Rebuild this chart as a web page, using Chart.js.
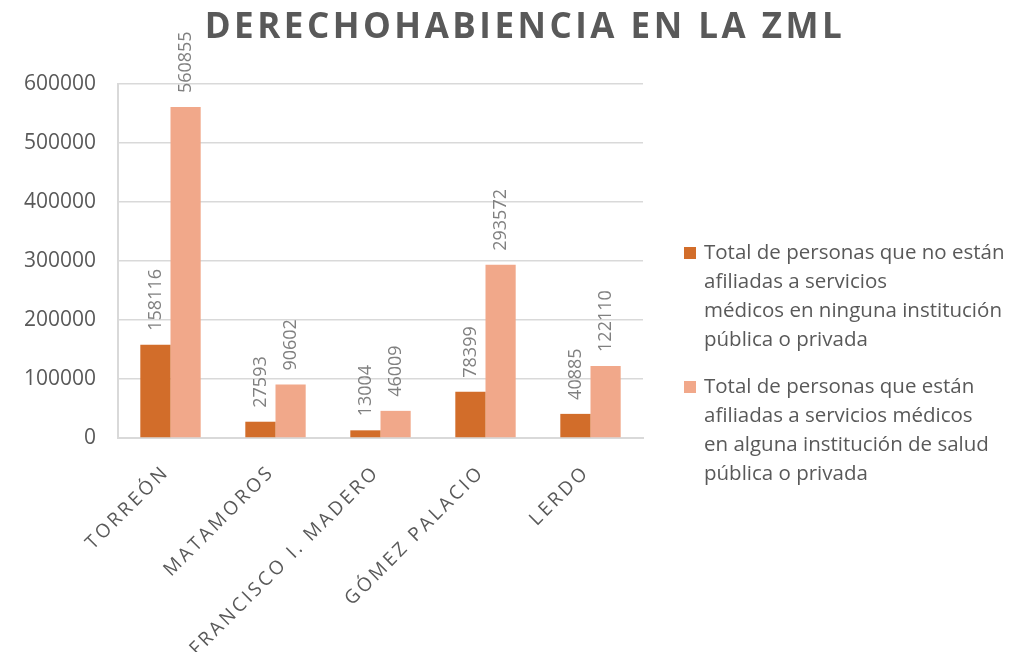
<!DOCTYPE html>
<html>
<head>
<meta charset="utf-8">
<script src="https://cdn.jsdelivr.net/npm/chart.js@4"></script>
<style>
  body { margin: 0; background: #fff; }
  canvas { display: block; }
</style>
</head>
<body>
<canvas id="chart" width="1010" height="652"></canvas>
<script>
const chartTitle = 'DERECHOHABIENCIA EN LA ZML';
const municipios = ['TORREÓN', 'MATAMOROS', 'FRANCISCO I. MADERO', 'GÓMEZ PALACIO', 'LERDO'];
const sinServicio = [158116, 27593, 13004, 78399, 40885];
const conServicio = [560855, 90602, 46009, 293572, 122110];
const yTicks = [0, 100000, 200000, 300000, 400000, 500000, 600000];
const sinLabel = ['Total de personas que no están', 'afiliadas a servicios', 'médicos en ninguna institución', 'pública o privada'];
const conLabel = ['Total de personas que están', 'afiliadas a servicios médicos', 'en alguna institución de salud', 'pública o privada'];

const grey = '#595959';

// titles, rotated category labels, bar values and the legend are drawn by hand
// because they need letter spacing / wrapped lines
const decor = {
    id: 'decor',
    afterDatasetsDraw(chart){
        const ctx = chart.ctx;
        ctx.save();
        ctx.fillStyle = '#808080';
        ctx.font = '18px "Open Sans"';
        ctx.textAlign = 'left';
        ctx.textBaseline = 'middle';
        chart.data.datasets.forEach(function(ds, i){
            chart.getDatasetMeta(i).data.forEach(function(bar, j){
                ctx.save();
                ctx.translate(bar.x, bar.y - 14);
                ctx.rotate(-Math.PI / 2);
                ctx.fillText(String(ds.data[j]), 0, 0);
                ctx.restore();
            });
        });
        ctx.restore();
    },
    afterDraw(chart){
        const ctx = chart.ctx;
        const x = chart.scales.x;

        // title
        ctx.save();
        ctx.fillStyle = grey;
        ctx.font = 'bold 35px "Open Sans"';
        ctx.letterSpacing = '3.5px';
        ctx.textAlign = 'center';
        ctx.textBaseline = 'alphabetic';
        ctx.fillText(chartTitle, 525, 38);
        ctx.restore();

        // category labels
        ctx.save();
        ctx.fillStyle = grey;
        ctx.font = '19px "Open Sans"';
        ctx.letterSpacing = '3px';
        ctx.textAlign = 'right';
        ctx.textBaseline = 'middle';
        chart.data.labels.forEach(function(lab, i){
            const cx = x.getPixelForValue(i);
            ctx.save();
            ctx.translate(cx - 4, 469);
            ctx.rotate(-Math.PI / 4);
            ctx.fillText(lab, 0, 0);
            ctx.restore();
        });
        ctx.restore();

        // legend
        ctx.save();
        ctx.font = '20.5px "Open Sans"';
        ctx.textAlign = 'left';
        ctx.textBaseline = 'middle';
        const tops = [253, 387];
        chart.data.datasets.forEach(function(ds, i){
            ctx.fillStyle = ds.backgroundColor;
            ctx.fillRect(684, tops[i] - 6, 12, 12);
            ctx.fillStyle = grey;
            ds.label.forEach(function(line, k){
                ctx.fillText(line, 704, tops[i] + k * 29);
            });
        });
        ctx.restore();
    }
};

new Chart(document.getElementById('chart'), {
    type: 'bar',
    data: {
        labels: municipios,
        datasets: [
            {
                label: sinLabel,
                data: sinServicio,
                backgroundColor: '#D26D2A'
            },
            {
                label: conLabel,
                data: conServicio,
                backgroundColor: '#F1A88A'
            }
        ]
    },
    options: {
        responsive: false,
        animation: false,
        categoryPercentage: 0.575,
        barPercentage: 1,
        layout: {padding: {top: 84, right: 367, bottom: 206, left: 0}},
        plugins: {
            legend: {display: false},
            title: {display: false},
            tooltip: {enabled: false}
        },
        scales: {
            x: {
                grid: {display: false},
                border: {color: '#d9d9d9', width: 2},
                ticks: {display: false}
            },
            y: {
                min: 0,
                max: 600000,
                afterBuildTicks: function(s){
                    s.ticks = yTicks.map(v => ({value: v}));
                },
                afterFit: function(s){
                    s.width = 118;
                },
                ticks: {
                    color: grey,
                    padding: 22,
                    font: {family: 'Open Sans', size: 21},
                    callback: v => String(v)
                },
                grid: {color: '#d9d9d9', lineWidth: 1.5, drawTicks: false},
                border: {color: '#d9d9d9', width: 2}
            }
        }
    },
    plugins: [decor]
});
</script>
</body>
</html>
